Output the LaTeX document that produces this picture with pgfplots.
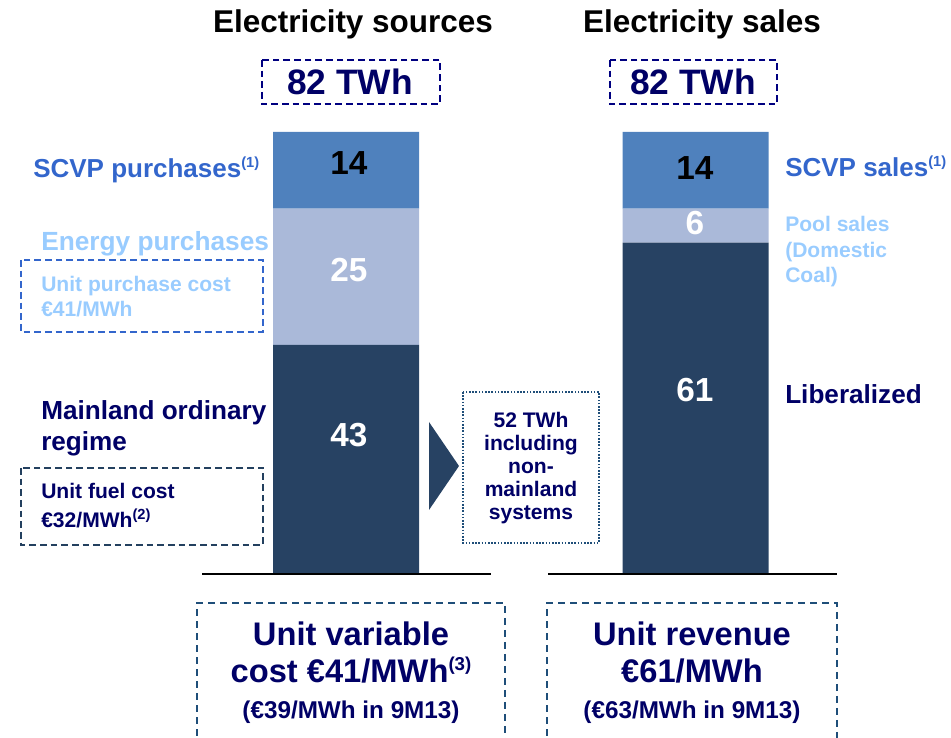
\documentclass[border=0pt]{standalone}
\usepackage{pgfplots}
\pgfplotsset{compat=1.18}
\usepackage{fontspec}
\setmainfont{Liberation Sans}
\definecolor{dkbar}{HTML}{274263}
\definecolor{ltbar}{HTML}{AAB9D9}
\definecolor{mdbar}{HTML}{4F81BD}
\definecolor{navy}{HTML}{000066}
\definecolor{navyb}{HTML}{000080}
\definecolor{scvp}{HTML}{3366CC}
\definecolor{enp}{HTML}{99CCFF}
\definecolor{boxb}{HTML}{1F4E79}
\definecolor{boxd}{HTML}{23405F}
\newcommand\fsz[1]{\fontsize{#1}{#1}\selectfont\bfseries}
\newcommand\sups[1]{\raisebox{0.75ex}{\fontsize{11}{11}\selectfont\bfseries #1}}
\begin{document}
\begin{tikzpicture}
\begin{axis}[at={(0,0)},anchor=south west,scale only axis,
  width=713.25pt,height=553.5pt,
  xmin=-0.98999,xmax=1.73104,ymin=-30.172,ymax=106.434,
  hide axis,clip=false,ybar stacked,bar width=109.5pt]
\addplot[fill=dkbar,draw=none] coordinates {(0,42.6) (1,61.5)};
\addplot[fill=ltbar,draw=none] coordinates {(0,25.2) (1,6.3)};
\addplot[fill=mdbar,draw=none] coordinates {(0,14.2) (1,14.2)};
\end{axis}
\begin{scope}[x=0.75pt,y=-0.75pt,shift={(0pt,553.5pt)}]
\path[use as bounding box] (0,0) rectangle (951,738);
% titles
\node[anchor=base,inner sep=0] at (353,33) {\fsz{23.6}Electricity sources};
\node[anchor=base,inner sep=0] at (702,33) {\fsz{23.6}Electricity sales};
\draw[navyb,line width=1.5pt,dash pattern=on 5pt off 3pt] (262,60) rectangle (440,104);
\draw[navyb,line width=1.5pt,dash pattern=on 5pt off 3pt] (610,60) rectangle (777,104);
\node[anchor=base,inner sep=0,text=navy] at (350,95) {\fsz{26.5}82 TWh};
\node[anchor=base,inner sep=0,text=navy] at (693,95) {\fsz{26.5}82 TWh};
% left labels
\node[anchor=base west,inner sep=0,text=scvp] at (33,178) {\fsz{19.5}SCVP purchases\sups{(1)}};
\node[anchor=base west,inner sep=0,text=enp] at (41,251) {\fsz{19.7}Energy purchases};
\draw[scvp,line width=1.5pt,dash pattern=on 5pt off 3pt] (21,260) rectangle (263,332);
\node[anchor=base west,inner sep=0,text=enp] at (41,292) {\fsz{15.8}Unit purchase cost};
\node[anchor=base west,inner sep=0,text=enp] at (41,317) {\fsz{15.8}€41/MWh};
\node[anchor=base west,inner sep=0,text=navy] at (41,420) {\fsz{19.6}Mainland ordinary};
\node[anchor=base west,inner sep=0,text=navy] at (41,451) {\fsz{19.6}regime};
\draw[boxd,line width=1.5pt,dash pattern=on 5pt off 3pt] (21,468) rectangle (263,545);
\node[anchor=base west,inner sep=0,text=navy] at (41,499) {\fsz{15.8}Unit fuel cost};
\node[anchor=base west,inner sep=0,text=navy] at (41,528) {\fsz{15.8}€32/MWh\sups{(2)}};
% right labels
\node[anchor=base west,inner sep=0,text=scvp] at (785,177) {\fsz{19.5}SCVP sales\sups{(1)}};
\node[anchor=base west,inner sep=0,text=enp] at (785,232) {\fsz{15.8}Pool sales};
\node[anchor=base west,inner sep=0,text=enp] at (785,258) {\fsz{15.8}(Domestic};
\node[anchor=base west,inner sep=0,text=enp] at (785,283) {\fsz{15.8}Coal)};
\node[anchor=base west,inner sep=0,text=navy] at (785,404) {\fsz{19.6}Liberalized};
% bar value labels
\node[anchor=base,inner sep=0,text=black] at (349,175) {\fsz{25}14};
\node[anchor=base,inner sep=0,text=white] at (349,282) {\fsz{25}25};
\node[anchor=base,inner sep=0,text=white] at (349,447) {\fsz{25}43};
\node[anchor=base,inner sep=0,text=black] at (695,180) {\fsz{25}14};
\node[anchor=base,inner sep=0,text=white] at (695,235) {\fsz{25}6};
\node[anchor=base,inner sep=0,text=white] at (695,402) {\fsz{25}61};
% arrow and middle box
\fill[dkbar] (429,422) -- (459,466) -- (429,510) -- cycle;
\draw[boxb,line width=0.9pt,dash pattern=on 1.2pt off 1.2pt] (463,392) rectangle (599,543);
\node[anchor=base,inner sep=0,text=navy] at (531,428) {\fsz{15.8}52 TWh};
\node[anchor=base,inner sep=0,text=navy] at (531,451) {\fsz{15.8}including};
\node[anchor=base,inner sep=0,text=navy] at (531,474) {\fsz{15.8}non-};
\node[anchor=base,inner sep=0,text=navy] at (531,497) {\fsz{15.8}mainland};
\node[anchor=base,inner sep=0,text=navy] at (531,520) {\fsz{15.8}systems};
% base lines
\draw[black,line width=1.5pt] (202,574) -- (491,574);
\draw[black,line width=1.5pt] (548,574) -- (837,574);
% bottom boxes
\draw[boxb,line width=1.5pt,dash pattern=on 5pt off 4pt] (197,760) -- (197,603) -- (505,603) -- (505,760);
\draw[boxb,line width=1.5pt,dash pattern=on 5pt off 4pt] (547,760) -- (547,603) -- (837,603) -- (837,760);
\node[anchor=base,inner sep=0,text=navy] at (351,646) {\fsz{24.5}Unit variable};
\node[anchor=base,inner sep=0,text=navy] at (351,683) {\fsz{24.5}cost €41/MWh\sups{\fontsize{14}{14}\selectfont(3)}};
\node[anchor=base,inner sep=0,text=navy] at (351,719) {\fsz{18.2}(€39/MWh in 9M13)};
\node[anchor=base,inner sep=0,text=navy] at (692,646) {\fsz{24.5}Unit revenue};
\node[anchor=base,inner sep=0,text=navy] at (692,683) {\fsz{24.5}€61/MWh};
\node[anchor=base,inner sep=0,text=navy] at (692,719) {\fsz{18.2}(€63/MWh in 9M13)};
\end{scope}
\end{tikzpicture}
\end{document}
